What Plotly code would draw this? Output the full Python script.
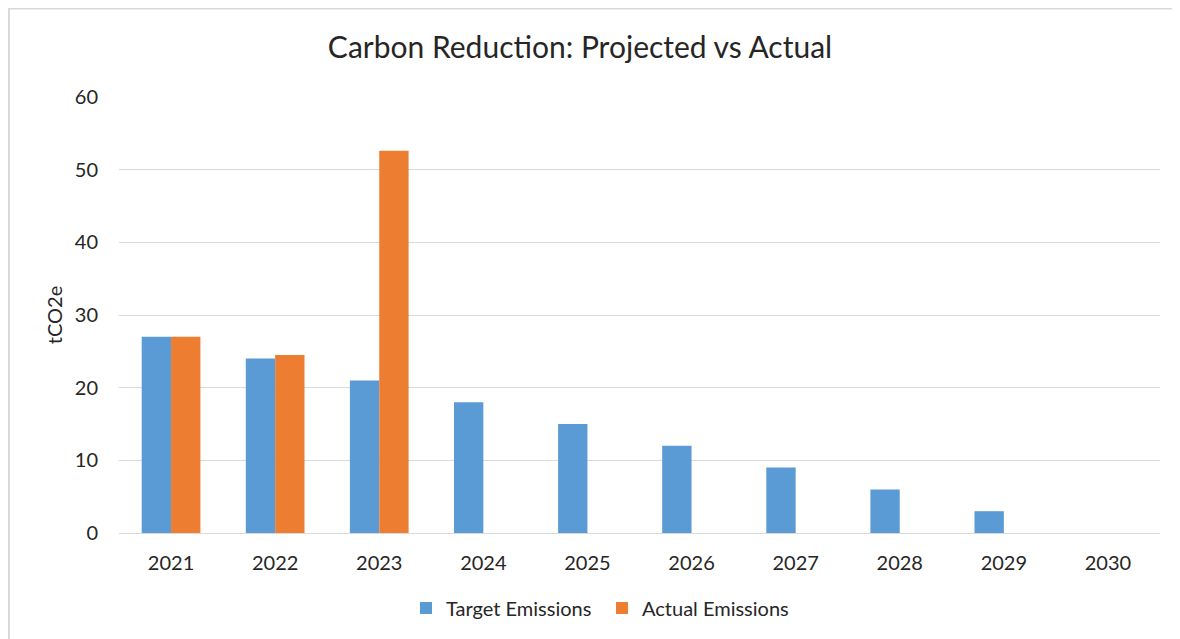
import plotly.graph_objects as go

years = ["2021", "2022", "2023", "2024", "2025", "2026", "2027", "2028", "2029", "2030"]
target = [27, 24, 21, 18, 15, 12, 9, 6, 3, 0]
actual = [27, 24.5, 52.6, None, None, None, None, None, None, None]

FONT = "Lato, Calibri, 'Open Sans', sans-serif"
TXT = "#262626"

fig = go.Figure()
fig.add_trace(go.Bar(x=years, y=target, name="Target Emissions", marker=dict(color="#5B9BD5", line=dict(width=0))))
fig.add_trace(go.Bar(x=years, y=actual, name="Actual Emissions", marker=dict(color="#ED7D31", line=dict(width=0))))

# page body has an 8px margin; figure coords = page coords - 8
W, H = 1172, 631
L, R, T, B = 111, 20, 89, 106
pw, ph = W - L - R, H - T - B

def px(x):  # figure px -> paper
    return (x - L) / pw

def py(y):
    return (H - B - y) / ph

fig.update_layout(
    width=W, height=H,
    margin=dict(l=L, r=R, t=T, b=B),
    paper_bgcolor="white", plot_bgcolor="white",
    barmode="group", bargap=0.436, bargroupgap=0,
    font=dict(family=FONT, color=TXT, size=20),
    title=dict(text="Carbon Reduction: Projected vs Actual", x=572 / W, xanchor="center",
               y=1 - 39 / H, yanchor="middle", font=dict(size=30, color=TXT, family=FONT)),
    xaxis=dict(showgrid=False, showline=False, ticks="", ticklabelstandoff=16,
               tickfont=dict(size=20, color=TXT)),
    yaxis=dict(range=[0, 60], dtick=10, showgrid=True, gridcolor="#D9D9D9", gridwidth=1.3,
               zeroline=True, zerolinecolor="#D9D9D9", zerolinewidth=1.3, showline=False,
               ticks="", ticklabelstandoff=20, tickfont=dict(size=20, color=TXT),
               title=dict(text="tCO2e", font=dict(size=20, color=TXT), standoff=6)),
    legend=dict(orientation="h", x=px(398), xanchor="left", y=py(600), yanchor="middle",
                font=dict(size=20, color=TXT), traceorder="normal",
                entrywidth=151, entrywidthmode="pixels"),
    showlegend=True,
    shapes=[
        dict(type="line", xref="paper", yref="paper", x0=px(0), x1=px(W), y0=py(0.5), y1=py(0.5),
             line=dict(color="#D9D9D9", width=2)),
        dict(type="line", xref="paper", yref="paper", x0=px(1), x1=px(1), y0=py(0), y1=py(H),
             line=dict(color="#D9D9D9", width=2)),
    ],
)

fig.write_html("out.html")
